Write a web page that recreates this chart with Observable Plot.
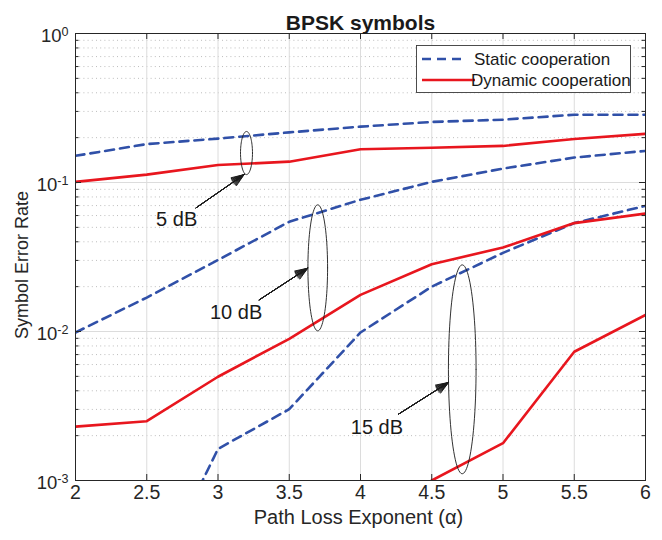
<!DOCTYPE html>
<html><head><meta charset="utf-8">
<script src="https://cdn.jsdelivr.net/npm/d3@7"></script>
<script src="https://cdn.jsdelivr.net/npm/@observablehq/plot@0.6"></script>
<style>
body{margin:0;background:#fff;}
#chart{position:relative;width:662px;height:540px;}
</style>
</head><body><div id="chart"></div>
<script>
// ---- data ----
const alpha = [2, 2.5, 3, 3.5, 4, 4.5, 5, 5.5, 6];
const static5   = [0.151, 0.181, 0.197, 0.217, 0.237, 0.255, 0.264, 0.285, 0.285];
const dynamic5  = [0.101, 0.113, 0.131, 0.138, 0.167, 0.171, 0.176, 0.196, 0.212];
const static10  = [0.00985, 0.0169, 0.0302, 0.0545, 0.0766, 0.101, 0.124, 0.147, 0.163];
const dynamic10 = [0.00230, 0.00250, 0.00497, 0.00893, 0.0176, 0.0283, 0.0366, 0.0534, 0.0619];
const static15  = [null, 0.00017, 0.00163, 0.00301, 0.00985, 0.0200, 0.0337, 0.0534, 0.0697];
const dynamic15 = [null, null, null, null, null, 0.00100, 0.00178, 0.00731, 0.0129];

const xTicks = [2, 2.5, 3, 3.5, 4, 4.5, 5, 5.5, 6];
const xTickLabels = ["2", "2.5", "3", "3.5", "4", "4.5", "5", "5.5", "6"];
const yTicks = [1e-3, 1e-2, 1e-1, 1];
const yTickLabels = ["10^-3", "10^-2", "10^-1", "10^0"];

const legendLabels = ["Static cooperation", "Dynamic cooperation"];

// annotations (data space)
const annLabels = ["5 dB", "10 dB", "15 dB"];
const ellCx = [3.20, 3.70, 4.714];
const ellRx = [0.042, 0.069, 0.097];
const ellTop = [0.220, 0.0708, 0.0280];
const ellBottom = [0.113, 0.0101, 0.00111];
const arrowFromX = [2.846, 3.289, 4.267];
const arrowFromY = [0.0676, 0.0163, 0.00279];
const arrowToX = [3.183, 3.63, 4.618];
const arrowToY = [0.113, 0.0266, 0.00455];
const labelX = [2.71, 3.127, 4.115];
const labelY = [0.0568, 0.0134, 0.00227];

// ---- build ----
const W = 662, H = 540, mt = 33, mb = 60, ml = 75, mr = 17;
const BLUE = "#3050a8", RED = "#e8161e", AX = "#262626";
const FONT = "'Liberation Sans', Arial, Helvetica, sans-serif";

const series = [
  {snr: "5", type: "static", v: static5},
  {snr: "10", type: "static", v: static10},
  {snr: "15", type: "static", v: static15},
  {snr: "5", type: "dynamic", v: dynamic5},
  {snr: "10", type: "dynamic", v: dynamic10},
  {snr: "15", type: "dynamic", v: dynamic15}
];
const rows = series.flatMap(s => alpha.map((a, i) => ({alpha: a, ser: s.v[i], snr: s.snr, type: s.type})))
  .filter(d => d.ser != null);

const yMinor = [];
for (let e = -3; e < 0; e++) for (let k = 2; k <= 9; k++) yMinor.push(k * 10 ** e);

const pxPerDec = (H - mt - mb) / 3;
const pxPerUnit = (W - ml - mr) / 4;
const tickLen = 6;
const tyd = 10 ** (tickLen / pxPerDec);
const minorLen = 3.5;
const tyMinor = minorLen / pxPerUnit, tyMajor = tickLen / pxPerUnit;

const ellPts = annLabels.flatMap((lab, i) => {
  const lt = Math.log10(ellTop[i]), lb = Math.log10(ellBottom[i]);
  const c = (lt + lb) / 2, a = (lt - lb) / 2;
  return d3.range(0, 361, 4).map(t => ({id: lab,
    x: ellCx[i] + ellRx[i] * Math.cos(t * Math.PI / 180),
    y: 10 ** (c + a * Math.sin(t * Math.PI / 180))}));
});
const arrows = annLabels.map((lab, i) => ({x1: arrowFromX[i], y1: arrowFromY[i], x2: arrowToX[i], y2: arrowToY[i]}));
const labels = annLabels.map((lab, i) => ({x: labelX[i], y: labelY[i], t: lab}));

const plot = Plot.plot({
  width: W, height: H,
  marginTop: mt, marginBottom: mb, marginLeft: ml, marginRight: mr,
  style: {fontFamily: FONT, background: "#fff"},
  x: {domain: [2, 6], axis: null},
  y: {type: "log", domain: [1e-3, 1], axis: null},
  marks: [
    // grid
    Plot.ruleY(yMinor, {y: d => d, stroke: "#bdbdbd", strokeWidth: 1, strokeDasharray: "1,3.2"}),
    Plot.ruleX(xTicks, {x: d => d, stroke: "#dcdcdc", strokeWidth: 1}),
    Plot.ruleY(yTicks, {y: d => d, stroke: "#dcdcdc", strokeWidth: 1}),
    // data
    Plot.line(rows.filter(d => d.type === "static"), {x: "alpha", y: "ser", z: "snr", stroke: BLUE, strokeWidth: 2.6, strokeDasharray: "9,6", clip: true}),
    Plot.line(rows.filter(d => d.type === "dynamic"), {x: "alpha", y: "ser", z: "snr", stroke: RED, strokeWidth: 2.6, clip: true}),
    // annotations
    Plot.line(ellPts, {x: "x", y: "y", z: "id", stroke: "#1a1a1a", strokeWidth: 0.9, curve: "linear"}),
    ...[42, 35, 28, 21, 14, 7].map(ang => Plot.arrow(arrows, {x1: "x1", y1: "y1", x2: "x2", y2: "y2",
      headAngle: ang, headLength: 20, stroke: "#1a1a1a", strokeWidth: 1})),
    Plot.text(labels, {x: "x", y: "y", text: "t", fontSize: 20, fill: "#1a1a1a"}),
    // frame and ticks
    Plot.frame({stroke: AX, strokeWidth: 1}),
    Plot.ruleX(xTicks, {x: d => d, y1: 1e-3, y2: 1e-3 * tyd, stroke: AX}),
    Plot.ruleX(xTicks, {x: d => d, y1: 1, y2: 1 / tyd, stroke: AX}),
    Plot.ruleY(yTicks, {y: d => d, x1: 2, x2: 2 + tyMajor, stroke: AX}),
    Plot.ruleY(yTicks, {y: d => d, x1: 6, x2: 6 - tyMajor, stroke: AX}),
    Plot.ruleY(yMinor, {y: d => d, x1: 2, x2: 2 + tyMinor, stroke: AX}),
    Plot.ruleY(yMinor, {y: d => d, x1: 6, x2: 6 - tyMinor, stroke: AX}),
    // tick labels
    Plot.text(xTicks, {x: d => d, frameAnchor: "bottom", dy: 18, text: (d, i) => xTickLabels[i], fontSize: 19.5, fill: AX}),
    Plot.text(yTicks, {y: d => d, frameAnchor: "left", dx: -7, dy: 3, textAnchor: "end", text: (d, i) => yTickLabels[i], fontSize: 18.5, fill: AX}),
    // titles
    Plot.text(["BPSK symbols"], {frameAnchor: "top", dy: -18, text: d => d, fontSize: 21, fontWeight: "bold", fill: "#1a1a1a"}),
    Plot.text(["Path Loss Exponent (α)"], {frameAnchor: "bottom", dy: 43, dx: -2, text: d => d, fontSize: 20, fill: AX}),
    Plot.text(["Symbol Error Rate"], {frameAnchor: "left", textAnchor: "middle", dx: -53, dy: 8, rotate: -90, text: d => d, fontSize: 18, fill: AX})
  ]
});

// superscripts on y tick labels
d3.select(plot).selectAll("text").each(function() {
  const t = this.textContent;
  const m = /^10\^(.+)$/.exec(t);
  if (m) {
    const s = d3.select(this);
    s.text(null);
    s.append("tspan").text("10");
    s.append("tspan").attr("dy", "-0.55em").attr("font-size", "0.68em").text(m[1]);
  }
});

// legend (inside plot, top right)
const svg = d3.select(plot);
const lg = svg.append("g").attr("font-family", FONT).attr("font-size", 17).attr("fill", "#1a1a1a").attr("text-anchor", "start");
lg.append("rect").attr("x", 416.5).attr("y", 45.5).attr("width", 214).attr("height", 47)
  .attr("fill", "#fff").attr("stroke", "#3a3a3a").attr("stroke-width", 0.9);
const legStroke = [BLUE, RED], legDash = ["9,6", null], legY = [59, 80], legTx = [474, 471];
legendLabels.forEach((lab, i) => {
  lg.append("line").attr("x1", 422).attr("x2", i === 0 ? 467 : 475).attr("y1", legY[i]).attr("y2", legY[i])
    .attr("stroke", legStroke[i]).attr("stroke-width", 2.6).attr("stroke-dasharray", legDash[i]);
  lg.append("text").attr("x", legTx[i]).attr("y", legY[i]).attr("dy", "0.36em").attr("text-anchor", "start").text(lab);
});

document.getElementById("chart").appendChild(plot);
</script>
</body></html>
